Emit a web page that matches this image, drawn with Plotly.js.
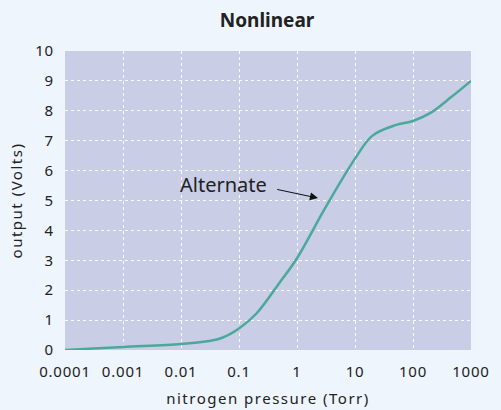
<!DOCTYPE html>
<html>
<head>
<meta charset="utf-8">
<script src="https://cdn.plot.ly/plotly-3.0.1.min.js"></script>
<style>
html,body{margin:0;padding:0;background:#eef5fc;}
#chart{width:501px;height:410px;}
#chart .xtick text, #chart .ytick text{letter-spacing:0.8px;}
#chart .xtitle, #chart .ytitle{letter-spacing:1.5px;}
</style>
</head>
<body>
<div id="chart"></div>
<script>
const pressure = [0.0001, 0.001, 0.01, 0.03, 0.05, 0.1, 0.2, 0.5, 1, 3, 10, 20, 50, 100, 200, 450, 1000];
const output = [0, 0.1, 0.2, 0.3, 0.4, 0.72, 1.22, 2.25, 3.07, 4.72, 6.4, 7.17, 7.52, 7.66, 7.93, 8.45, 9.0];
const xTickVals = [0.0001, 0.001, 0.01, 0.1, 1, 10, 100, 1000];
const xTickText = ["0.0001", "0.001", "0.01", "0.1", "1", "10", "100", "1000"];
const yTickVals = [0, 1, 2, 3, 4, 5, 6, 7, 8, 9, 10];

const font = "'Noto Sans', 'Open Sans', sans-serif";
const trace = {
  x: pressure, y: output, type: 'scatter', mode: 'lines',
  line: {color: '#4aa99b', width: 2.5, shape: 'spline', smoothing: 1},
  hoverinfo: 'skip'
};
const layout = {
  width: 501, height: 410,
  margin: {l: 65, r: 30, t: 51, b: 60},
  paper_bgcolor: '#eef5fc', plot_bgcolor: '#c9cde6',
  showlegend: false,
  title: {text: '<b>Nonlinear</b>', font: {family: font, size: 19, color: '#222'}, x: 0.533, xanchor: 'center', y: 0.95, yanchor: 'middle'},
  xaxis: {
    type: 'log', range: [-4, 3],
    tickvals: xTickVals, ticktext: xTickText,
    ticks: 'outside', ticklen: 8, tickcolor: 'rgba(0,0,0,0)',
    showgrid: true, gridcolor: 'rgba(255,255,255,0.9)', griddash: 'dot', gridwidth: 1,
    zeroline: false, showline: false,
    tickfont: {family: font, size: 15, color: '#222'},
    title: {text: 'nitrogen pressure (Torr)', font: {family: font, size: 15, color: '#222'}, standoff: 13}
  },
  yaxis: {
    range: [0, 10], tickvals: yTickVals,
    ticks: 'outside', ticklen: 7, tickcolor: 'rgba(0,0,0,0)',
    showgrid: true, gridcolor: 'rgba(255,255,255,0.9)', griddash: 'dot', gridwidth: 1,
    zeroline: false, showline: false,
    tickfont: {family: font, size: 15, color: '#222'},
    title: {text: 'output (Volts)', font: {family: font, size: 15, color: '#222'}, standoff: 10}
  },
  annotations: [
    {x: Math.log10(0.055), y: 5.52, xref: 'x', yref: 'y', text: 'Alternate', showarrow: false,
     font: {family: font, size: 20, color: '#222'}, xanchor: 'center', yanchor: 'middle'},
    {x: Math.log10(2.3), y: 5.08, xref: 'x', yref: 'y', ax: Math.log10(0.43), ay: 5.38, axref: 'x', ayref: 'y',
     text: '', showarrow: true, arrowhead: 2, arrowsize: 1.6, arrowwidth: 1, arrowcolor: '#111'}
  ]
};
Plotly.newPlot('chart', [trace], layout, {displayModeBar: false, staticPlot: true});
</script>
</body>
</html>
